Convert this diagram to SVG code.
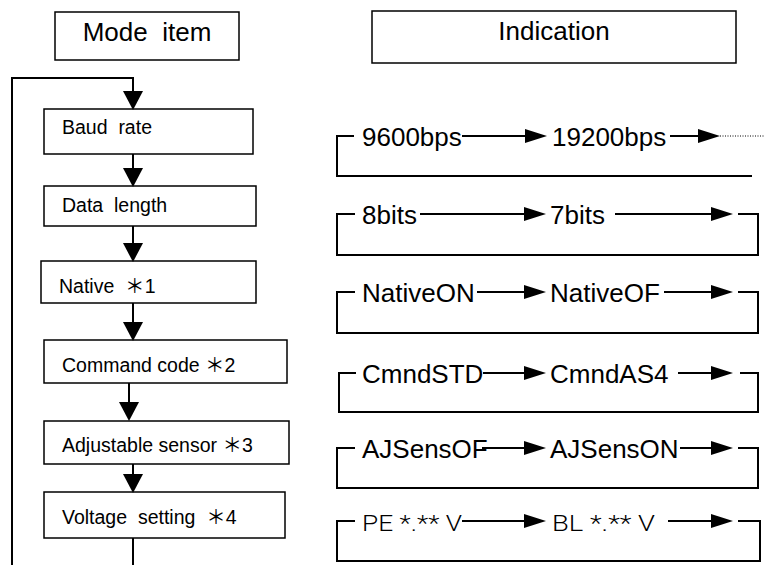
<svg xmlns="http://www.w3.org/2000/svg" width="765" height="565" viewBox="0 0 765 565">
<style>
.box{fill:#fff;stroke:#000;stroke-width:1.5}
.ln{fill:none;stroke:#000;stroke-width:2}
.hd{fill:#000;stroke:none}
.t{font-family:"Liberation Sans",Arial,sans-serif;fill:#000}
.hdr{font-size:26px;text-anchor:middle}
.lb{font-size:19.5px}
.rt{font-size:26px}
.thin{font-family:Roboto,"DejaVu Sans",sans-serif;font-weight:300;font-size:22px;fill:#000}
.dot{fill:none;stroke:#000;stroke-width:1;stroke-dasharray:1 1.5}
</style>
<rect width="765" height="565" fill="#fff"/>
<g id="hdr-mode"><rect class="box" x="55" y="12" width="184" height="48"/><text class="t hdr" x="147" y="41" xml:space="preserve">Mode  item</text></g>
<g id="hdr-ind"><rect class="box" x="372" y="11" width="364" height="52"/><text class="t hdr" x="554" y="40">Indication</text></g>
<g id="n-baud"><rect class="box" x="44" y="109" width="209" height="45"/><text class="t lb" x="62" y="134" xml:space="preserve">Baud  rate</text></g>
<g id="n-data"><rect class="box" x="44" y="186" width="212" height="40"/><text class="t lb" x="62" y="212" xml:space="preserve">Data  length</text></g>
<g id="n-native"><rect class="box" x="41" y="261" width="215" height="42"/><text class="t lb" x="59" y="293" xml:space="preserve">Native  <tspan font-family="'Noto Sans CJK JP',sans-serif">＊</tspan>1</text></g>
<g id="n-cmd"><rect class="box" x="44" y="340" width="243" height="43"/><text class="t lb" x="62" y="372" xml:space="preserve">Command code <tspan font-family="'Noto Sans CJK JP',sans-serif">＊</tspan>2</text></g>
<g id="n-adj"><rect class="box" x="44" y="421" width="245" height="43"/><text class="t lb" x="62" y="452" xml:space="preserve">Adjustable sensor <tspan font-family="'Noto Sans CJK JP',sans-serif">＊</tspan>3</text></g>
<g id="n-volt"><rect class="box" x="44" y="492" width="241" height="46"/><text class="t lb" x="62" y="524" xml:space="preserve">Voltage  setting  <tspan font-family="'Noto Sans CJK JP',sans-serif">＊</tspan>4</text></g>
<g id="connectors">
<path class="ln" d="M12 565V78H133V92"/><polygon class="hd" points="123,91 143,91 133,110"/>
<path class="ln" d="M133 154V169"/><polygon class="hd" points="123,168 143,168 133,187"/>
<path class="ln" d="M133 226V244"/><polygon class="hd" points="123,243 143,243 133,262"/>
<path class="ln" d="M133 303V323"/><polygon class="hd" points="123,322 143,322 133,341"/>
<path class="ln" d="M129 383V403"/><polygon class="hd" points="119,402 139,402 129,421"/>
<path class="ln" d="M133 464V475"/><polygon class="hd" points="123,474 143,474 133,493"/>
<path class="ln" d="M133 538V565"/>
</g>
<g id="row-baud">
<path class="ln" d="M354 136H337V176H752"/>
<text class="t rt" x="362" y="146">9600bps</text>
<path class="ln" d="M462 136H526"/><polygon class="hd" points="525,129 525,143 547,136"/>
<text class="t rt" x="552" y="146">19200bps</text>
<path class="ln" d="M670 136H699"/><polygon class="hd" points="698,129 698,143 720,136"/>
<path class="dot" d="M720 136H765"/>
</g>
<g id="row-data">
<path class="ln" d="M355 214H337V255H758V214H738"/>
<text class="t rt" x="362" y="224">8bits</text>
<path class="ln" d="M420 214H525"/><polygon class="hd" points="524,207 524,221 546,214"/>
<text class="t rt" x="550" y="224">7bits</text>
<path class="ln" d="M615 214H712"/><polygon class="hd" points="711,207 711,221 733,214"/>
</g>
<g id="row-native">
<path class="ln" d="M355 292H337V333H758V292H738"/>
<text class="t rt" x="362" y="302">NativeON</text>
<path class="ln" d="M477 292H525"/><polygon class="hd" points="524,285 524,299 546,292"/>
<text class="t rt" x="550" y="302">NativeOF</text>
<path class="ln" d="M664 292H712"/><polygon class="hd" points="711,285 711,299 733,292"/>
</g>
<g id="row-cmd">
<path class="ln" d="M356 373H339V412H758V373H740"/>
<text class="t rt" x="362" y="383">CmndSTD</text>
<path class="ln" d="M483 373H525"/><polygon class="hd" points="524,366 524,380 546,373"/>
<text class="t rt" x="550" y="383">CmndAS4</text>
<path class="ln" d="M678 373H712"/><polygon class="hd" points="711,366 711,380 733,373"/>
</g>
<g id="row-adj">
<path class="ln" d="M355 448H337V488H758V448H738"/>
<text class="t rt" x="362" y="458">AJSensOF</text>
<path class="ln" d="M482 448H525"/><polygon class="hd" points="524,441 524,455 546,448"/>
<text class="t rt" x="550" y="458">AJSensON</text>
<path class="ln" d="M680 448H712"/><polygon class="hd" points="711,441 711,455 733,448"/>
</g>
<g id="row-volt">
<path class="ln" d="M355 521H337V561H760V521H738"/>
<text class="thin" x="362" y="531" textLength="100" lengthAdjust="spacingAndGlyphs" xml:space="preserve">PE *.** V</text>
<path class="ln" d="M462 521H525"/><polygon class="hd" points="524,514 524,528 546,521"/>
<text class="thin" x="552" y="531" textLength="103" lengthAdjust="spacingAndGlyphs" xml:space="preserve">BL *.** V</text>
<path class="ln" d="M668 521H712"/><polygon class="hd" points="711,514 711,528 733,521"/>
</g>
</svg>
